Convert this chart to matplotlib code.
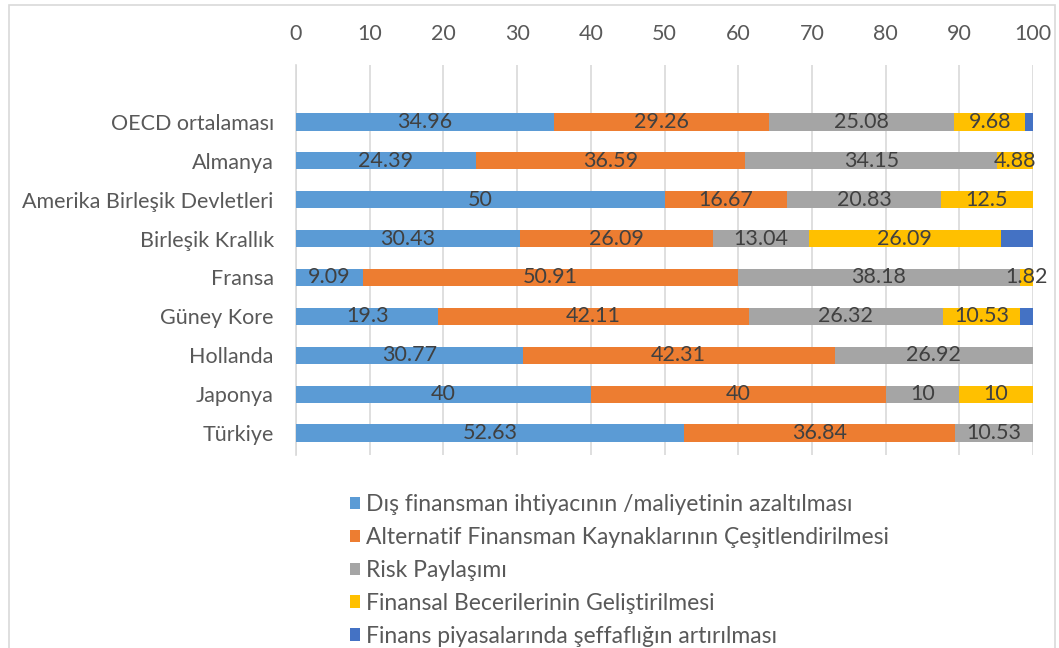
import numpy as np
import matplotlib.pyplot as plt
from matplotlib.patches import Rectangle

plt.rcParams['font.family'] = ['Lato', 'DejaVu Sans']

ulkeler = ["OECD ortalaması", "Almanya", "Amerika Birleşik Devletleri", "Birleşik Krallık",
           "Fransa", "Güney Kore", "Hollanda", "Japonya", "Türkiye"]

seri_adlari = ["Dış finansman ihtiyacının /maliyetinin azaltılması",
               "Alternatif Finansman Kaynaklarının Çeşitlendirilmesi",
               "Risk Paylaşımı",
               "Finansal Becerilerinin Geliştirilmesi",
               "Finans piyasalarında şeffaflığın artırılması"]

dis_finansman = [34.96, 24.39, 50, 30.43, 9.09, 19.3, 30.77, 40, 52.63]
alternatif = [29.26, 36.59, 16.67, 26.09, 50.91, 42.11, 42.31, 40, 36.84]
risk = [25.08, 34.15, 20.83, 13.04, 38.18, 26.32, 26.92, 10, 10.53]
beceri = [9.68, 4.88, 12.5, 26.09, 1.82, 10.53, 0, 10, 0]
seffaflik = [1.02, 0, 0, 4.35, 0, 1.75, 0, 0, 0]

renkler = ["#5B9BD5", "#ED7D31", "#A5A5A5", "#FFC000", "#4472C4"]
seriler = [dis_finansman, alternatif, risk, beceri, seffaflik]

fig = plt.figure(figsize=(10.59, 6.48), dpi=100)
W, H = 1059, 648

# grafik cercevesi
fig.patches.append(Rectangle((9 / W, -0.01), (1055 - 9) / W, 1 - 5 / H + 0.01,
                             transform=fig.transFigure, fill=False,
                             edgecolor="#D9D9D9", linewidth=1.2))

ax = fig.add_axes([296 / W, 1 - 455 / H, (1033 - 296) / W, (455 - 65) / H])

y = np.arange(len(ulkeler))
sol = np.zeros(len(ulkeler))
for i, (degerler, renk) in enumerate(zip(seriler, renkler)):
    degerler = np.array(degerler, dtype=float)
    ax.barh(y, degerler, left=sol, height=0.44, color=renk, label=seri_adlari[i], zorder=3)
    if i < 4:
        for yy, s, d in zip(y, sol, degerler):
            if d > 0:
                ax.text(s + d / 2, yy, f"{d:g}", ha="center", va="center",
                        fontsize=15.5, color="#404040", zorder=4)
    sol += degerler

ax.set_xlim(0, 100)
ax.set_ylim(8.566, -1.465)
ax.set_xticks(range(0, 101, 10))
ax.xaxis.tick_top()
ax.tick_params(axis="x", length=0, pad=15, labelsize=15.5, labelcolor="#595959")
ax.tick_params(axis="y", length=0, pad=16, labelsize=15.5, labelcolor="#595959")
ax.set_yticks(y)
ax.set_yticklabels(ulkeler)
ax.grid(axis="x", color="#D9D9D9", linewidth=1.2, zorder=0)
for s in ["top", "right", "bottom"]:
    ax.spines[s].set_visible(False)
ax.spines["left"].set_color("#D9D9D9")
ax.spines["left"].set_linewidth(1.2)

fig.legend(loc="upper left", bbox_to_anchor=(350 / W, 1 - 494 / H), frameon=False,
           fontsize=16.5, labelcolor="#595959", handlelength=0.45, handleheight=0.45,
           handletextpad=0.25, labelspacing=0.52, borderaxespad=0, borderpad=0)

fig.savefig("out.png", dpi=100)
